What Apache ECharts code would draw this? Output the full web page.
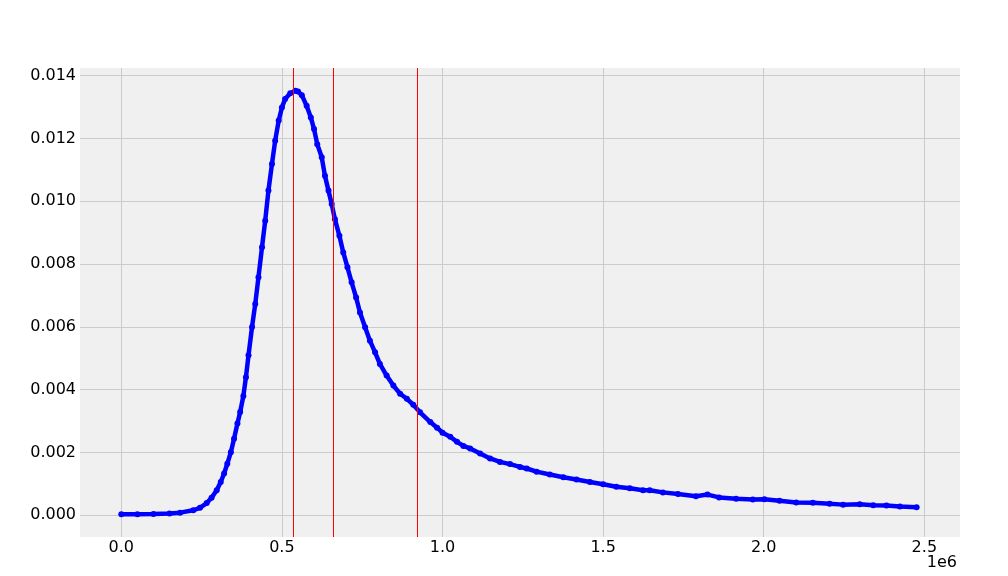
<!DOCTYPE html>
<html>
<head>
<meta charset="utf-8">
<script src="https://cdn.jsdelivr.net/npm/echarts@6/dist/echarts.min.js"></script>
<style>
html,body{margin:0;padding:0;background:#ffffff;}
#chart{width:1008px;height:576px;}
</style>
</head>
<body>
<div id="chart"></div>
<script>
// x positions in units of 1e6
var xMillions = [0.00,0.05,0.10,0.15,0.183,0.224,0.245,0.266,0.281,0.297,0.3095,0.320,0.330,0.341,0.351,0.3615,0.370,0.380,0.388,0.396,0.407,0.417,0.427,0.438,0.448,0.458,0.469,0.479,0.490,0.500,0.510,0.526,0.542,0.550,0.562,0.577,0.590,0.600,0.610,0.624,0.634,0.645,0.655,0.665,0.679,0.691,0.704,0.717,0.731,0.743,0.759,0.774,0.790,0.805,0.826,0.847,0.868,0.889,0.909,0.930,0.962,0.983,1.000,1.024,1.045,1.065,1.086,1.117,1.148,1.179,1.210,1.241,1.262,1.293,1.334,1.376,1.417,1.459,1.500,1.541,1.583,1.624,1.645,1.686,1.733,1.789,1.825,1.861,1.914,1.966,2.002,2.049,2.101,2.153,2.205,2.247,2.299,2.341,2.382,2.424,2.476];
var density = [0.00003,0.00003,0.00004,0.00006,0.000085,0.00016,0.00024,0.00039,0.00056,0.0008,0.00106,0.00133,0.00164,0.00201,0.00244,0.00292,0.00329,0.0038,0.0044,0.0051,0.006,0.00673,0.00758,0.00854,0.00938,0.01034,0.01119,0.01193,0.01257,0.01299,0.01326,0.01344,0.01352,0.0135,0.01338,0.01304,0.01267,0.0123,0.01182,0.0114,0.01081,0.01034,0.00991,0.00943,0.0089,0.00837,0.0079,0.00742,0.00694,0.00646,0.00599,0.00556,0.00519,0.00482,0.00445,0.00413,0.00387,0.00371,0.00352,0.00328,0.00297,0.00279,0.00263,0.0025,0.00234,0.00221,0.00213,0.00197,0.00181,0.0017,0.00163,0.00154,0.00149,0.00139,0.0013,0.00121,0.00114,0.00106,0.00099,0.00091,0.00086,0.0008,0.0008,0.00073,0.00068,0.00061,0.00066,0.00057,0.00053,0.0005,0.00051,0.00046,0.00041,0.0004,0.00037,0.00034,0.00035,0.00032,0.00031,0.00028,0.00026];
var verticalLines = [535500, 660000, 920000];
var xTicks = [0, 500000, 1000000, 1500000, 2000000, 2500000];
var yTicks = [0, 0.002, 0.004, 0.006, 0.008, 0.010, 0.012, 0.014];

var seriesData = xMillions.map(function (x, i) { return [x * 1e6, density[i]]; });

var chart = echarts.init(document.getElementById('chart'), null, {renderer: 'canvas'});
var labelFont = {fontFamily: 'DejaVu Sans', fontSize: 16, color: '#000000'};
chart.setOption({
  animation: false,
  backgroundColor: '#ffffff',
  grid: {left: 80, right: 48, top: 68, bottom: 39, show: true, backgroundColor: '#f0f0f0', borderWidth: 0, containLabel: false},
  xAxis: {
    type: 'value', min: -128600, max: 2611000,
    axisLine: {show: false},
    axisTick: {show: false, customValues: xTicks},
    axisLabel: Object.assign({customValues: xTicks, margin: 3, formatter: function (v) { return (v / 1e6).toFixed(1); }}, labelFont),
    splitLine: {show: true, lineStyle: {color: '#cbcbcb', width: 1}}
  },
  yAxis: {
    type: 'value', min: -0.000691, max: 0.014245,
    axisLine: {show: false},
    axisTick: {show: false, customValues: yTicks},
    axisLabel: Object.assign({customValues: yTicks, margin: 4, formatter: function (v) { return v.toFixed(3); }}, labelFont),
    splitLine: {show: true, lineStyle: {color: '#cbcbcb', width: 1}}
  },
  graphic: [{
    type: 'text', right: 51, top: 555,
    style: {text: '1e6', font: '16px "DejaVu Sans"', fill: '#000000'}
  }],
  series: [{
    type: 'line',
    data: seriesData,
    showSymbol: true,
    symbol: 'circle',
    symbolSize: 6,
    lineStyle: {color: '#0000ff', width: 4.5},
    itemStyle: {color: '#0000ff'},
    silent: true,
    z: 3,
    markLine: {
      silent: true,
      symbol: 'none',
      label: {show: false},
      lineStyle: {color: '#ff0000', width: 1, type: 'solid'},
      data: verticalLines.map(function (v) { return {xAxis: v}; }),
      z: 4
    }
  }]
});
</script>
</body>
</html>
